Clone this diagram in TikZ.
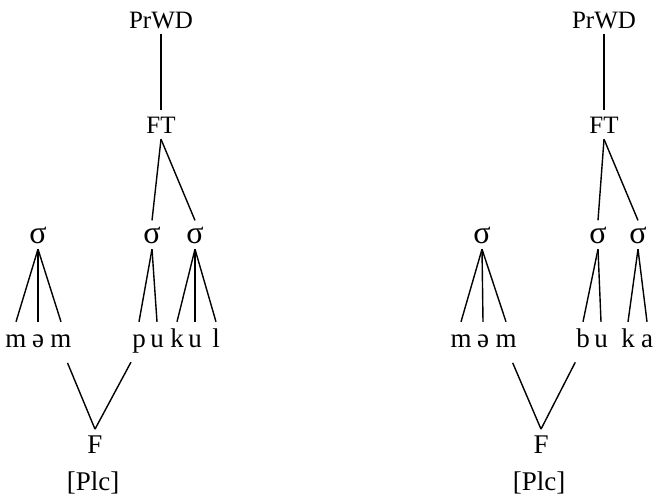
\documentclass[tikz,border=0pt]{standalone}
\usepackage{fontspec}
\setmainfont{Liberation Serif}
\usetikzlibrary{positioning}

\begin{document}
\begin{tikzpicture}[x = 1pt, y = -1pt,
    etichetta/.style = {anchor = base, inner sep = 6pt, text depth = 0pt, font = \fontsize{25}{27}\selectfont},
    sillaba/.style = {etichetta, font = \fontsize{32}{34}\selectfont},
    piedino/.style = {etichetta, font = \fontsize{27}{29}\selectfont},
    segmento/.style = {anchor = base, inner sep = 0pt, text height = 25pt, text depth = 0pt, font = \fontsize{27}{29}\selectfont},
    ramo/.style = {line width = 1.4pt},
    piede/.style = {line width = 1.4pt, shorten <= 17pt}]
    % Cornice
    \useasboundingbox (0,0) rectangle (660,498);
    % Parametri
    \pgfmathsetmacro{\ys}{243}
    \pgfmathsetmacro{\yseg}{347}
    % Albero di sinistra
    \node[etichetta] (prwdA) at (161,28) {PrWD};
    \node[etichetta] (ftA) at (161,133) {FT};
    \node[sillaba] (sA1) at (38,\ys) {σ};
    \node[sillaba] (sA2) at (152,\ys) {σ};
    \node[sillaba] (sA3) at (195,\ys) {σ};
    \node[segmento] (mA1) at (16,\yseg) {m};
    \node[segmento] (eA) at (38,\yseg) {ə};
    \node[segmento] (mA2) at (61,\yseg) {m};
    \node[segmento] (pA) at (139,\yseg) {p};
    \node[segmento] (uA1) at (157,\yseg) {u};
    \node[segmento] (kA) at (177,\yseg) {k};
    \node[segmento] (uA2) at (195,\yseg) {u};
    \node[segmento] (lA) at (216,\yseg) {l};
    \node[piedino] (fA) at (95,453) {F};
    \node[piedino] (plcA) at (93,490) {[Plc]};
    % Rami a sinistra
    \draw[ramo] (prwdA.south) -- (ftA.north);
    \draw[ramo] (ftA.south) -- (sA2.north);
    \draw[ramo] (ftA.south) -- (sA3.north);
    \draw[ramo] (sA1.south) -- (mA1.north);
    \draw[ramo] (sA1.south) -- (eA.north);
    \draw[ramo] (sA1.south) -- (mA2.north);
    \draw[ramo] (sA2.south) -- (pA.north);
    \draw[ramo] (sA2.south) -- (uA1.north);
    \draw[ramo] (sA3.south) -- (kA.north);
    \draw[ramo] (sA3.south) -- (uA2.north);
    \draw[ramo] (sA3.south) -- (lA.north);
    \draw[piede] (mA2.south) -- (fA.north);
    \draw[piede] (pA.south) -- (fA.north);
    % Albero di destra
    \node[etichetta] (prwdB) at (604,28) {PrWD};
    \node[etichetta] (ftB) at (604,133) {FT};
    \node[sillaba] (sB1) at (482,\ys) {σ};
    \node[sillaba] (sB2) at (598,\ys) {σ};
    \node[sillaba] (sB3) at (638,\ys) {σ};
    \node[segmento] (mB1) at (461,\yseg) {m};
    \node[segmento] (eB) at (483,\yseg) {ə};
    \node[segmento] (mB2) at (506,\yseg) {m};
    \node[segmento] (bB) at (583,\yseg) {b};
    \node[segmento] (uB) at (601,\yseg) {u};
    \node[segmento] (kB) at (628,\yseg) {k};
    \node[segmento] (aB) at (647,\yseg) {a};
    \node[piedino] (fB) at (541,453) {F};
    \node[piedino] (plcB) at (539,490) {[Plc]};
    % Rami a destra
    \draw[ramo] (prwdB.south) -- (ftB.north);
    \draw[ramo] (ftB.south) -- (sB2.north);
    \draw[ramo] (ftB.south) -- (sB3.north);
    \draw[ramo] (sB1.south) -- (mB1.north);
    \draw[ramo] (sB1.south) -- (eB.north);
    \draw[ramo] (sB1.south) -- (mB2.north);
    \draw[ramo] (sB2.south) -- (bB.north);
    \draw[ramo] (sB2.south) -- (uB.north);
    \draw[ramo] (sB3.south) -- (kB.north);
    \draw[ramo] (sB3.south) -- (aB.north);
    \draw[piede] (mB2.south) -- (fB.north);
    \draw[piede] (bB.south) -- (fB.north);
\end{tikzpicture}
\end{document}
